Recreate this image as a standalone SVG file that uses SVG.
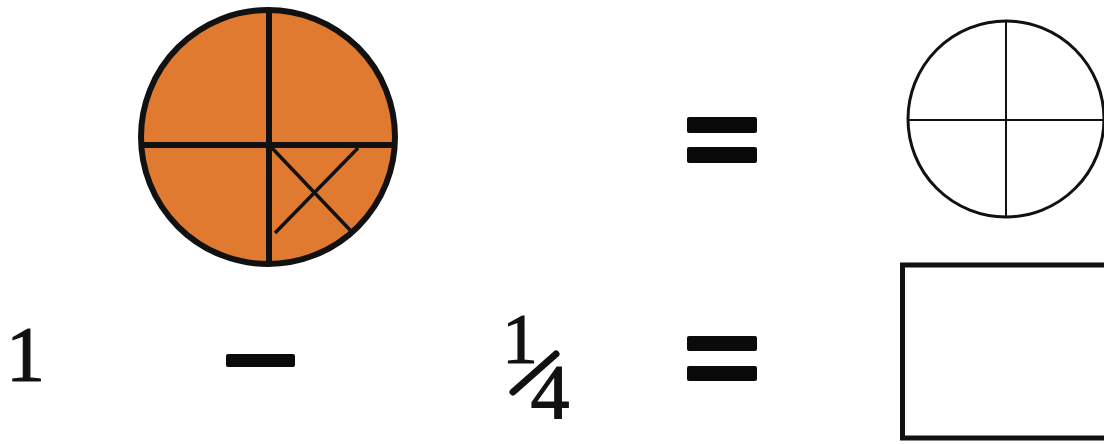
<svg xmlns="http://www.w3.org/2000/svg" width="1104" height="444" viewBox="0 0 1104 444">
<style>
.num{font-family:"Liberation Serif","Times New Roman",serif;fill:#111;stroke:#111;stroke-width:1.2;text-anchor:middle}
.bar{fill:#0a0a0a}
.ln{stroke:#111;fill:none}
</style>
<rect width="1104" height="444" fill="#fff"/>
<g id="orange-circle">
<circle cx="268" cy="137" r="127" fill="#E07A30" stroke="#111" stroke-width="6"/>
<line class="ln" x1="269" y1="9" x2="269" y2="266" stroke-width="6"/>
<line class="ln" x1="141" y1="145" x2="395" y2="145" stroke-width="6"/>
<line class="ln" x1="272" y1="148" x2="350" y2="230" stroke-width="3.5"/>
<line class="ln" x1="358" y1="148" x2="275" y2="233" stroke-width="3.5"/>
</g>
<g id="one">
<text class="num" x="25.5" y="380" font-size="78">1</text>
</g>
<g id="minus">
<rect class="bar" x="226" y="354" width="69" height="13" rx="2"/>
</g>
<g id="quarter">
<text class="num" x="520" y="363" font-size="71">1</text>
<text class="num" x="550" y="418" font-size="78">4</text>
<line x1="513" y1="392" x2="556" y2="354" stroke="#111" stroke-width="7" stroke-linecap="round"/>
</g>
<g id="equals-top">
<rect class="bar" x="687" y="117" width="70" height="16" rx="2"/>
<rect class="bar" x="687" y="147" width="70" height="16" rx="2"/>
</g>
<g id="equals-bottom">
<rect class="bar" x="687" y="336" width="70" height="15" rx="2"/>
<rect class="bar" x="687" y="366" width="70" height="15" rx="2"/>
</g>
<g id="white-circle">
<circle cx="1006" cy="119" r="98" fill="#fff" stroke="#111" stroke-width="3"/>
<line class="ln" x1="1006" y1="21" x2="1006" y2="217" stroke-width="2"/>
<line class="ln" x1="908" y1="120" x2="1104" y2="120" stroke-width="2"/>
</g>
<g id="answer-box">
<rect x="902.5" y="265" width="230" height="173" fill="#fff" stroke="#111" stroke-width="5"/>
</g>
</svg>
